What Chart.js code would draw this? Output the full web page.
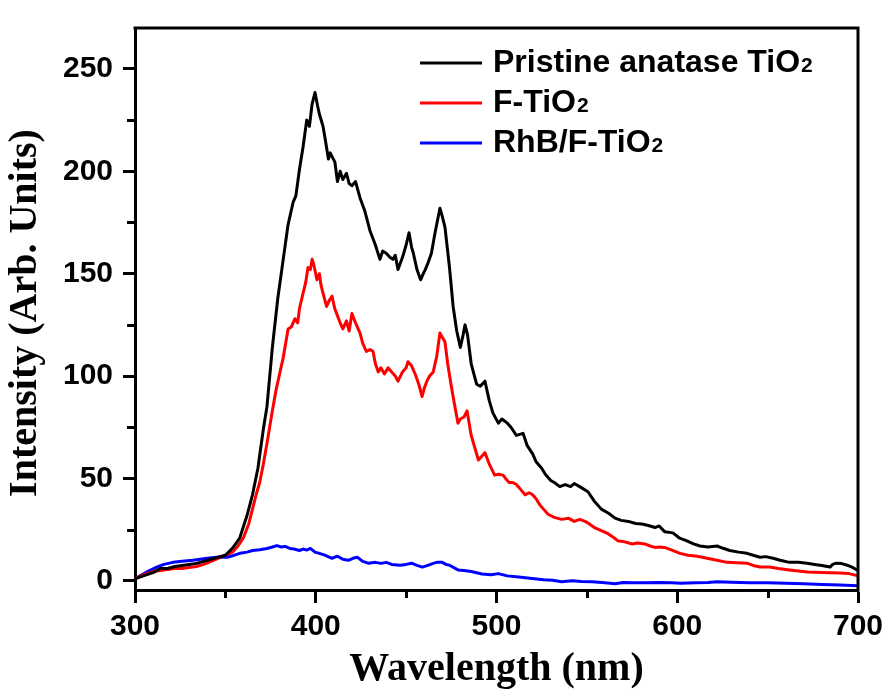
<!DOCTYPE html>
<html>
<head>
<meta charset="utf-8">
<title>PL spectra</title>
<script src="https://cdn.jsdelivr.net/npm/chart.js@4.4.1/dist/chart.umd.min.js"></script>
<style>
  html, body { margin: 0; padding: 0; background: #fff; }
  #wrap { width: 890px; height: 696px; }
</style>
</head>
<body>
<div id="wrap"><canvas id="plChart" width="890" height="696"></canvas></div>
<script>
// Wavelength (nm) and intensity
const pristineNm = [300, 305, 310, 314, 318, 322, 326, 330, 334, 338, 342, 346, 350, 354, 358, 362, 365, 368, 371, 373, 376, 379, 382, 384.7, 387.5, 389, 391, 393, 395, 396.5, 398, 399.6, 401, 402, 404, 405, 407, 408, 410.6, 412, 413.5, 415, 417, 418.5, 420, 422, 424.5, 427, 430, 433, 435.5, 437, 439, 441, 442.7, 444, 445.5, 448, 450, 451.6, 453, 454, 456, 458, 459.5, 460.6, 462, 464, 466, 468.7, 470, 471.5, 474, 476, 478, 480, 481.5, 482.6, 484, 486, 489, 491, 493.6, 496, 498, 501, 503, 506, 508, 511, 514.7, 517, 520, 522, 525, 527, 530, 532, 535, 538, 541, 543, 546, 550.6, 554, 558, 562, 565.6, 569, 573, 577, 580.5, 584, 587.7, 590, 593, 597.6, 601, 605, 609, 612.6, 617, 622, 625, 629, 634, 638.6, 642, 645.8, 649, 653, 657, 662, 667, 671.8, 676, 680, 684.5, 686, 688, 691, 694, 697, 700];
const pristineVal = [1, 2.5, 4, 6, 6, 7, 7.5, 8, 8.5, 9.5, 10.5, 11.5, 12.5, 16, 21, 32, 42, 55, 74, 85, 114, 138, 157, 174, 185, 188, 201, 212, 225, 222, 233, 238.5, 232, 228, 222, 217, 206, 209, 204.5, 195, 200, 196, 199, 194, 193, 195, 187, 181, 171, 164, 157, 161, 160, 158, 157, 159, 152, 158, 164, 170, 163, 160, 152, 147, 150, 152, 155, 160, 170, 182, 178, 172.6, 153, 134, 122, 114, 120, 125, 120, 106, 96, 95, 97.5, 88, 82, 77, 79, 77, 75, 71, 72, 66, 62, 58, 55, 52, 49, 48, 46, 47, 46, 47.5, 46, 43.5, 39, 35, 33, 30.6, 29.5, 29, 28, 27.7, 27, 26, 26.8, 24, 23.4, 21, 19.6, 18, 17, 16.5, 17, 16, 14.8, 14, 13.4, 12.5, 11.5, 11.8, 11, 10, 9, 9, 8.6, 8, 7.5, 6.7, 8, 8.6, 8.4, 7.6, 6.5, 5];

const fDopedNm = [300, 305, 310, 314, 318, 322, 326, 330, 334, 338, 342, 346, 350, 354, 357, 360, 363, 365, 367, 369, 371, 373, 376, 378, 380, 382, 384.7, 386.5, 388.5, 390, 391, 393, 394.5, 395.7, 397, 398, 399, 400.7, 402, 403, 404, 406, 407.5, 409, 410.5, 412, 413.5, 415, 417, 418.5, 420, 422, 424.5, 426, 428, 430, 431.7, 433, 434.6, 436, 438, 440, 442, 444, 445.5, 448, 450, 451, 453, 455, 457, 458.8, 460, 461.5, 463, 465, 467, 468.7, 470, 471.5, 473, 475, 477, 478.7, 480, 482, 483.7, 486, 488, 490, 492, 493.6, 496, 499, 501, 503.6, 505, 507, 509, 511, 513, 515.8, 518, 520, 522, 524, 526, 528.5, 532, 536, 540, 543, 546, 549, 551, 554.5, 558, 561.7, 565, 567, 571, 575, 578, 582, 585, 587.7, 590, 593, 597, 601.5, 606, 611, 616.5, 622, 627.5, 633, 638.6, 642, 645.8, 651, 656, 662, 667, 672, 680, 690, 695, 700];
const fDopedVal = [1, 3, 4.5, 5, 5.5, 6, 6, 6.5, 7, 8, 9.5, 11, 12.5, 14, 17, 21, 28, 35, 42, 48, 57, 67, 83, 93, 101, 109, 123, 124, 128, 126, 133, 140.5, 146, 153, 152, 157, 154, 147, 150, 144, 140.5, 134, 137, 139, 133, 129.5, 126, 123, 127, 122, 130.5, 126, 121, 116, 112, 113, 112, 106, 102, 104, 101, 104, 102, 100, 97.5, 102, 104, 107, 105, 101, 96, 90, 94, 97.5, 100, 102, 110, 121, 119, 116.6, 106, 95, 85, 77, 79, 80, 83, 71, 65, 59, 61, 62.6, 57, 51.6, 52, 51.6, 50, 48, 48, 47, 45, 42, 43, 42, 40, 37, 35, 32.5, 31, 30, 30.5, 29, 30, 29, 28, 25.8, 24.5, 23, 21, 19.6, 19, 18, 18.5, 18, 17, 16.3, 16.5, 16.3, 15, 13.4, 12.5, 12, 11, 10, 9, 8.8, 8.6, 7.5, 6.7, 6.7, 6, 5.3, 4.8, 4.3, 4, 3.8, 3.5, 2.5];

const rhbNm = [300, 304, 308, 312, 316, 321, 326, 332, 336, 340, 345, 351, 355, 358, 362, 365, 369, 373, 376, 378.5, 381, 383, 385.7, 388, 391, 393, 395, 397, 399.6, 402, 405, 409, 412, 415, 418, 420.6, 423, 426, 429, 433, 436, 439, 442, 446.6, 450, 453, 456, 459, 462, 465, 467, 470, 472, 474, 478.7, 482, 486, 492, 497, 501, 506, 511, 516, 521, 526, 531, 536, 542, 547, 553, 560, 565.6, 570, 576, 582, 590, 597, 602, 610, 617, 622, 630, 640, 650, 660, 670, 680, 690, 700];
const rhbVal = [1, 3, 5, 6.7, 8, 9, 9.5, 10, 10.5, 11, 11.5, 11.5, 12.5, 13.4, 14, 14.8, 15.2, 15.8, 16.5, 17.2, 16.5, 16.8, 15.8, 15.5, 14.8, 15.5, 15, 15.8, 14, 13.4, 12.5, 11, 12, 10.5, 10, 11, 11.5, 9.5, 8.6, 9, 8.5, 9, 8, 7.6, 8, 8.6, 7.5, 6.7, 7.5, 8.5, 9, 9, 8, 7.6, 5.3, 5, 4.5, 3.3, 3, 3.5, 2.4, 2, 1.5, 1, 0.5, 0.3, -0.5, 0, -0.3, -0.5, -1, -1.4, -0.8, -1, -1, -0.8, -1, -1.2, -1, -0.8, -0.5, -0.7, -1, -1, -1.2, -1.5, -1.8, -2, -2.4];

const seriesNames = ['Pristine anatase TiO', 'F-TiO', 'RhB/F-TiO']; // each followed by subscript 2
const seriesColors = ['#000000', '#ff0000', '#0000ff'];

const xTicks = [300, 400, 500, 600, 700];
const xMinorTicks = [350, 450, 550, 650];
const yTicks = [0, 50, 100, 150, 200, 250];
const yMinorTicks = [25, 75, 125, 175, 225];
const yTitle = 'Intensity (Arb. Units)';

function toPoints(xs, ys) {
  return xs.map((x, i) => ({ x: x, y: ys[i] }));
}

// Frame on top/right, minor ticks, y title and the in-plot legend with subscripts
const framePlugin = {
  id: 'frameAndLegend',
  afterDraw(chart) {
    const ctx = chart.ctx;
    const area = chart.chartArea;
    const xs = chart.scales.x;
    const ys = chart.scales.y;
    ctx.save();
    ctx.strokeStyle = '#000';
    ctx.lineWidth = 3;
    ctx.beginPath();
    ctx.moveTo(area.left - 1.5, area.top);
    ctx.lineTo(area.right, area.top);
    ctx.lineTo(area.right, area.bottom + 1.5);
    ctx.stroke();

    // minor ticks (outward, shorter than the major ones)
    ctx.beginPath();
    xMinorTicks.forEach(v => {
      const px = Math.round(xs.getPixelForValue(v)) + 0.5;
      ctx.moveTo(px, area.bottom);
      ctx.lineTo(px, area.bottom + 8);
    });
    yMinorTicks.forEach(v => {
      const py = Math.round(ys.getPixelForValue(v)) + 0.5;
      ctx.moveTo(area.left, py);
      ctx.lineTo(area.left - 8, py);
    });
    ctx.stroke();

    // y axis title, a little below the plot centre as in the original
    ctx.save();
    ctx.translate(26, 313);
    ctx.rotate(-Math.PI / 2);
    ctx.fillStyle = '#000';
    ctx.textAlign = 'center';
    ctx.textBaseline = 'middle';
    ctx.font = 'bold 40px "Liberation Serif", "Times New Roman", serif';
    ctx.fillText(yTitle, 0, 0);
    ctx.restore();

    // legend
    const lx = 420, ly = 63, gap = 40;
    seriesNames.forEach((name, i) => {
      const y = ly + i * gap;
      ctx.strokeStyle = seriesColors[i];
      ctx.lineWidth = 3;
      ctx.beginPath();
      ctx.moveTo(lx, y);
      ctx.lineTo(lx + 62, y);
      ctx.stroke();
      ctx.fillStyle = '#000';
      ctx.textBaseline = 'alphabetic';
      ctx.textAlign = 'left';
      ctx.font = 'bold 32px "Liberation Sans", Arial, sans-serif';
      ctx.fillText(name, lx + 73, y + 9);
      const w = ctx.measureText(name).width;
      ctx.font = 'bold 21px "Liberation Sans", Arial, sans-serif';
      ctx.fillText('2', lx + 74 + w, y + 9);
    });
    ctx.restore();
  }
};

const ctx = document.getElementById('plChart').getContext('2d');
new Chart(ctx, {
  type: 'line',
  data: {
    datasets: [
      { label: 'Pristine anatase TiO2', data: toPoints(pristineNm, pristineVal), borderColor: seriesColors[0] },
      { label: 'F-TiO2', data: toPoints(fDopedNm, fDopedVal), borderColor: seriesColors[1] },
      { label: 'RhB/F-TiO2', data: toPoints(rhbNm, rhbVal), borderColor: seriesColors[2] }
    ]
  },
  options: {
    responsive: false,
    animation: false,
    devicePixelRatio: 1,
    layout: { padding: { left: 0, right: 32, top: 16, bottom: 0 } },
    elements: {
      point: { radius: 0 },
      line: { borderWidth: 3, tension: 0, borderJoinStyle: 'round' }
    },
    plugins: {
      legend: { display: false },
      tooltip: { enabled: false }
    },
    scales: {
      x: {
        type: 'linear',
        min: 300,
        max: 700,
        afterFit(scale) { scale.height = 106; },
        afterBuildTicks(scale) { scale.ticks = xTicks.map(v => ({ value: v })); },
        grid: { display: true, drawOnChartArea: false, drawTicks: true, tickLength: 13, tickWidth: 3, tickColor: '#000' },
        border: { display: true, color: '#000', width: 3 },
        ticks: {
          color: '#000',
          padding: 6,
          maxRotation: 0,
          font: { family: '"Liberation Sans", Arial, sans-serif', size: 30, weight: 'bold' }
        },
        title: {
          display: true,
          text: 'Wavelength (nm)',
          color: '#000',
          padding: { top: 0, bottom: 2 },
          font: { family: '"Liberation Serif", "Times New Roman", serif', size: 40, weight: 'bold' }
        }
      },
      y: {
        type: 'linear',
        min: -4.5,
        max: 270,
        afterFit(scale) { scale.width = 135; },
        afterBuildTicks(scale) { scale.ticks = yTicks.map(v => ({ value: v })); },
        grid: { display: true, drawOnChartArea: false, drawTicks: true, tickLength: 12, tickWidth: 3, tickColor: '#000' },
        border: { display: true, color: '#000', width: 3 },
        ticks: {
          color: '#000',
          padding: 10,
          font: { family: '"Liberation Sans", Arial, sans-serif', size: 30, weight: 'bold' }
        },
        title: { display: false }
      }
    }
  },
  plugins: [framePlugin]
});
</script>
</body>
</html>
